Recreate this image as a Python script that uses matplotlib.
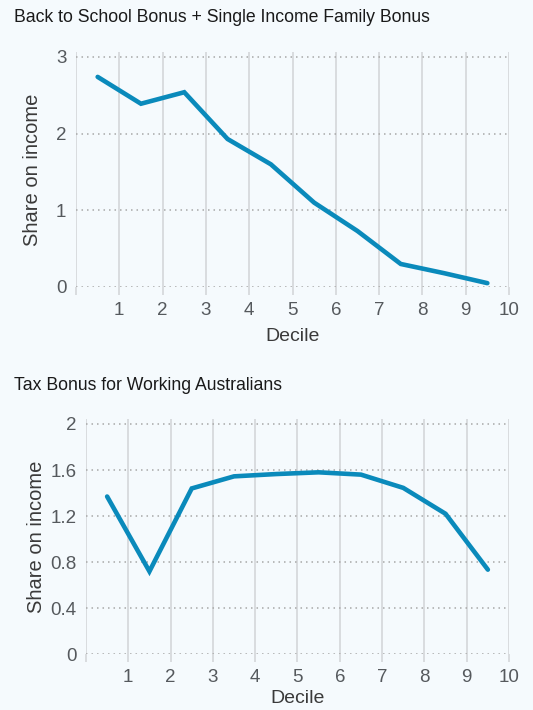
import matplotlib
matplotlib.use("Agg")
import matplotlib.pyplot as plt

plt.rcParams['font.family'] = ['Liberation Sans', 'DejaVu Sans']

deciles = [0.5, 1.5, 2.5, 3.5, 4.5, 5.5, 6.5, 7.5, 8.5, 9.5]
school_bonus = [2.74, 2.39, 2.54, 1.93, 1.60, 1.10, 0.73, 0.30, 0.18, 0.05]
tax_bonus = [1.37, 0.72, 1.44, 1.545, 1.565, 1.58, 1.56, 1.445, 1.22, 0.735]

title_top = "Back to School Bonus + Single Income Family Bonus"
title_bottom = "Tax Bonus for Working Australians"
xticks = [1, 2, 3, 4, 5, 6, 7, 8, 9, 10]
yticks_top = [0, 1, 2, 3]
yticks_top_labels = ["0", "1", "2", "3"]
yticks_bottom = [0, 0.4, 0.8, 1.2, 1.6, 2.0]
yticks_bottom_labels = ["0", "0.4", "0.8", "1.2", "1.6", "2"]

bg = '#f5fafd'
line_color = '#0a8abb'
vgrid = '#d6d9dc'
hgrid = '#a8a8a8'
text_color = '#55595d'

fig = plt.figure(figsize=(5.33, 7.10), dpi=100, facecolor=bg)


def style(ax, yticks, ylabels, ytop, xpad):
    ax.set_facecolor(bg)
    ax.set_xlim(0, 10)
    ax.set_ylim(0, ytop)
    for s in ax.spines.values():
        s.set_visible(False)
    for xv in range(0, 11):
        ax.axvline(xv, color=vgrid, lw=1.3, zorder=1)
    for yv in yticks:
        ax.axhline(yv, color=hgrid, lw=1.1, ls=(0, (1, 2.6)), zorder=1)
    ax.set_xticks(range(0, 11))
    ax.set_xticklabels([""] + [str(v) for v in xticks])
    ax.set_yticks(yticks)
    ax.set_yticklabels(ylabels)
    ax.tick_params(axis='x', length=6, width=1.3, color=vgrid, labelsize=13.5,
                   labelcolor=text_color, pad=4.5)
    ax.tick_params(axis='y', length=0, labelsize=13.5, labelcolor=text_color, pad=7)
    ax.set_xlabel("Decile", fontsize=14, color='#3a3a3a', labelpad=xpad)
    ax.set_ylabel("Share on income", fontsize=14.5, color='#3a3a3a', labelpad=10)


ax1 = fig.add_axes([0.1426, 0.5958, 0.8124, 0.331])
style(ax1, yticks_top, yticks_top_labels, 3.065, 7)
ax1.plot(deciles, school_bonus, color=line_color, lw=3.3, solid_capstyle='round',
         solid_joinstyle='miter', zorder=3, clip_on=False)

ax2 = fig.add_axes([0.1613, 0.0784, 0.7937, 0.331])
style(ax2, yticks_bottom, yticks_bottom_labels, 2.04, 3)
ax2.plot(deciles, tax_bonus, color=line_color, lw=3.3, solid_capstyle='round',
         solid_joinstyle='miter', zorder=3, clip_on=False)
ax2.yaxis.set_label_coords(-0.095, 0.5)

fig.text(14 / 533, 1 - 17 / 710, title_top, fontsize=12.7, color='#1a1a1a',
         ha='left', va='center')
fig.text(14 / 533, 1 - 385 / 710, title_bottom, fontsize=12.7, color='#1a1a1a',
         ha='left', va='center')

fig.savefig("out.png", dpi=100, facecolor=bg)
